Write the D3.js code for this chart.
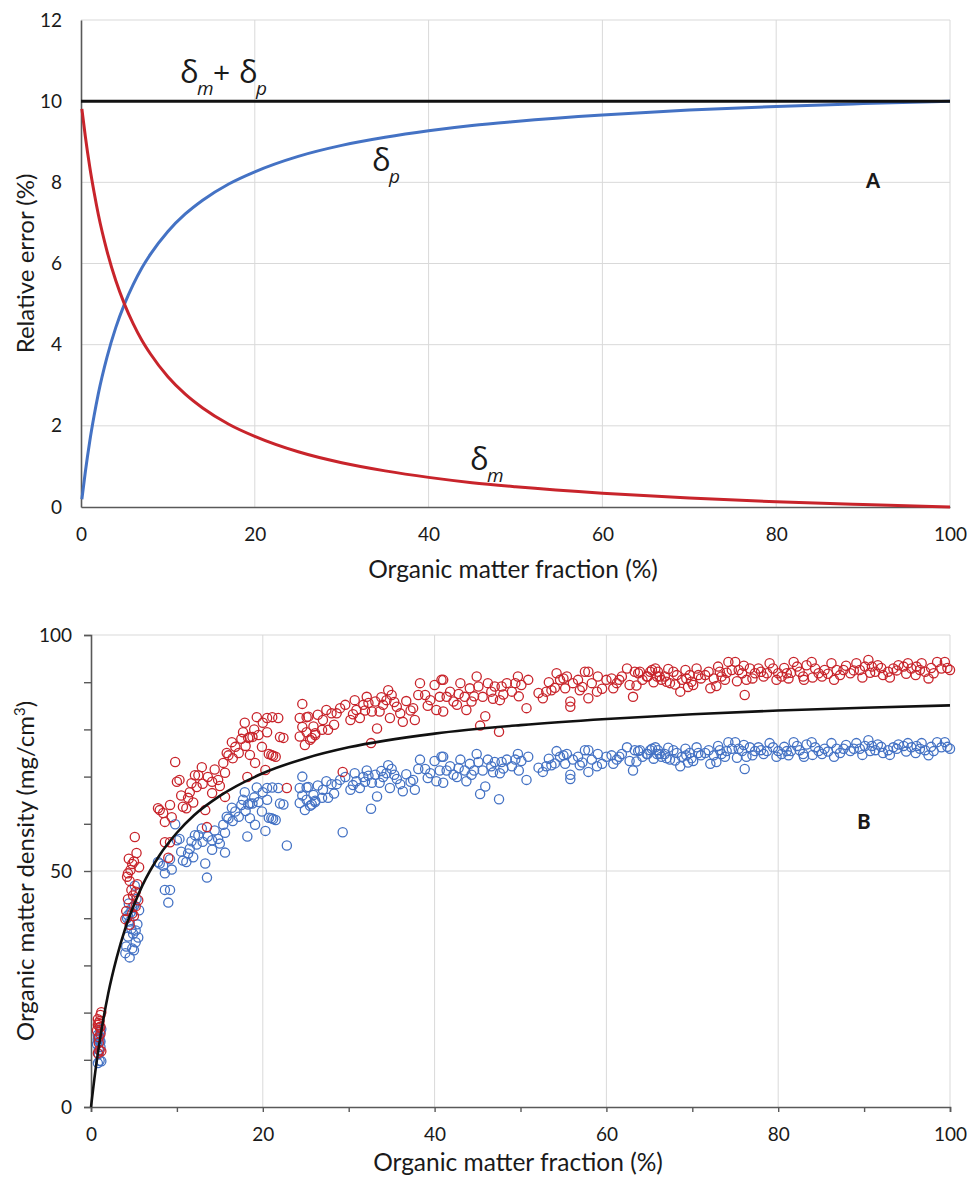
<!DOCTYPE html>
<html>
<head>
<meta charset="utf-8">
<script src="https://cdn.jsdelivr.net/npm/d3@7"></script>
<style>
  body { margin: 0; background: #ffffff; }
  svg text { font-family: Lato, "Open Sans", sans-serif; fill: #1a1a1a; }
</style>
</head>
<body>
<svg id="chart" width="967" height="1177"></svg>
<script>
// ---------- Panel A: relative error components ----------
const fractionTicksA = [0, 20, 40, 60, 80, 100];
const errorTicks = [0, 2, 4, 6, 8, 10, 12];

const curveFraction = [0.1, 0.5, 1, 1.5, 2, 3, 4, 5, 6, 7, 8, 10, 12, 14, 17, 20, 25, 30, 35, 40, 45, 50, 60, 70, 80, 90, 100];
const deltaM = [9.81, 9.13, 8.39, 7.76, 7.20, 6.30, 5.58, 5.00, 4.52, 4.11, 3.77, 3.21, 2.78, 2.44, 2.04, 1.74, 1.36, 1.09, 0.89, 0.73, 0.60, 0.50, 0.34, 0.22, 0.13, 0.06, 0.00];
const deltaP = [0.19, 0.87, 1.61, 2.24, 2.80, 3.70, 4.42, 5.00, 5.48, 5.89, 6.23, 6.79, 7.22, 7.56, 7.96, 8.26, 8.64, 8.91, 9.11, 9.27, 9.40, 9.50, 9.66, 9.78, 9.87, 9.94, 10.00];
const sumFraction = [0, 100];
const deltaSum = [10, 10];

// ---------- Panel B: organic matter density ----------
const fractionTicksB = [0, 10, 20, 30, 40, 50, 60, 70, 80, 90, 100];
const densityTicks = [0, 10, 20, 30, 40, 50, 60, 70, 80, 90, 100];
const densityLabels = [0, 50, 100];
const fractionLabelsB = [0, 20, 40, 60, 80, 100];

const modelFraction = [0, 0.5, 1, 2, 3, 4, 5, 6, 8, 10, 12, 15, 20, 25, 30, 40, 50, 60, 70, 80, 90, 100];
const modelDensity = [0, 7.5, 13.8, 24.0, 31.7, 37.9, 42.8, 47.0, 53.4, 58.1, 61.8, 65.9, 70.7, 73.9, 76.2, 79.1, 80.9, 82.2, 83.2, 84.0, 84.6, 85.1];

const sampleFraction = [
  0.8, 1.0, 1.1, 1.2, 0.9, 1.0, 0.7, 1.1, 0.9, 1.0, 0.8, 1.2, 0.9, 1.1, 0.8,
  4.1, 4.3, 4.5, 4.2, 4.6, 4.4, 4.8, 5.0, 5.1, 5.3, 4.7, 4.9, 5.2, 5.4, 4.0, 4.5, 5.0, 5.5, 4.3, 5.6, 4.8, 5.2,
  7.8, 8.0, 8.4, 8.6, 8.6, 9.0, 9.2, 9.2, 9.4, 9.8, 10.0, 10.3, 10.7, 11.1, 11.3, 11.5, 11.7, 12.1, 12.5, 12.9, 13.3, 13.5, 13.6, 14.1, 14.1, 14.8, 15.4, 15.6, 15.6, 15.8, 16.4, 16.5, 16.8, 17.7, 17.9, 18.2, 18.3, 18.5, 18.5, 18.8, 19.1, 19.3,
  10.5, 11.9, 12.3, 13.0, 14.4, 15.0, 16.0, 17.2, 17.5, 18.0, 19.0, 19.5,
  19.9, 20.0, 20.3, 20.5, 20.5, 20.7, 21.0, 21.1, 21.2, 21.5, 21.8, 22.0, 22.4, 22.8, 24.3, 24.3, 24.6, 24.6, 24.9, 25.1, 25.3, 25.1, 25.5, 25.7, 25.9, 26.1, 26.1, 26.4, 26.9,
  27.4, 27.6, 28.0, 28.6, 29.3, 29.6, 30.2, 30.7, 30.9, 31.3, 31.7, 32.1, 32.3, 32.6, 32.7, 33.1, 33.3, 33.6, 34.0, 34.4, 34.6, 34.8, 35.0, 35.6, 36.0, 36.3, 37.5, 37.7, 38.1, 38.3, 38.9, 39.5, 40.0, 40.2, 40.6, 40.8,
  27.0, 28.3, 29.0, 30.5, 31.9, 33.8, 35.3, 36.7, 37.2, 39.2,
  41.0, 41.4, 42.2, 41.0, 43.0, 43.5, 43.7, 44.1, 44.3, 44.9, 45.1, 45.3, 45.6, 45.9, 46.2, 46.6, 47.0, 47.5, 47.6, 47.8,
  48.4, 49.0, 49.4, 49.7, 50.1, 50.7, 50.9, 52.1, 52.6, 53.0, 53.6, 54.2, 54.6, 55.2, 55.4, 55.8, 55.8, 56.1, 56.7, 56.9,
  57.5, 57.9, 57.9, 58.3, 58.9, 59.0, 60.0, 60.6, 60.8, 61.2, 61.8, 62.4, 62.7, 63.1, 63.3, 63.7, 64.8, 65.3, 65.9, 42.6,
  41.8, 42.8, 44.6, 46.8, 48.0, 49.8, 53.3, 54.0, 55.0, 57.2, 59.5, 61.5, 63.5, 64.2,
  63.9, 64.7, 65.1, 65.7, 66.0, 66.2, 66.4, 66.8, 67.0, 67.4, 67.8, 68.2, 68.6, 68.8, 69.2, 69.3, 69.7, 69.9, 70.1, 70.5,
  70.7, 71.9, 72.1, 72.5, 73.0, 73.2, 73.4, 73.8, 74.2, 74.6, 75.0, 75.4, 75.8, 76.1, 76.3, 76.7, 77.3, 77.7, 78.3, 78.7,
  79.0, 79.4, 80.0, 80.4, 81.0, 81.2, 81.8, 82.2, 82.5, 82.9, 83.3, 83.9, 84.3, 84.7, 85.1, 85.4, 86.2, 86.8, 87.2, 87.6,
  88.4, 89.1, 89.5, 90.1, 90.5, 90.9, 91.3, 91.6, 92.2, 92.8, 93.4, 94.0, 94.6, 95.1, 95.5, 96.1, 96.5, 96.7, 97.1, 97.5,
  98.1, 98.5, 99.0, 99.4, 100.0,
  65.5, 67.2, 68.0, 69.5, 71.0, 71.5, 72.8, 74.0, 75.2, 76.0, 77.0, 78.0, 79.8, 80.7, 81.5, 83.0, 84.0, 85.8, 86.5, 87.9,
  88.8, 89.8, 90.7, 92.0, 93.0, 93.8, 94.9, 96.0, 97.8, 99.7
];

const densityRed = [
  17.4, 18.2, 19.5, 20.1, 17.8, 16.9, 16.2, 15.5, 14.8, 12.0, 11.4, 11.8, 13.6, 17.0, 18.6,
  41.5, 44.0, 47.9, 48.8, 50.2, 52.6, 51.5, 52.0, 57.2, 53.8, 46.0, 44.8, 42.5, 47.2, 39.8, 38.6, 40.5, 43.8, 49.5, 50.8, 41.0, 45.6,
  63.3, 62.9, 62.3, 60.4, 56.1, 52.8, 56.1, 64.0, 61.4, 73.1, 68.9, 69.3, 63.6, 63.3, 65.5, 66.7, 68.6, 70.3, 70.3, 72.0, 62.9, 59.3, 69.9, 66.5, 68.9, 69.3, 72.9, 70.8, 65.7, 75.0, 77.3, 73.9, 76.3, 79.4, 81.4, 69.9, 78.2, 78.4, 74.6, 78.4, 72.9, 82.6,
  66.0, 64.5, 67.8, 68.5, 71.5, 68.0, 74.5, 75.0, 78.0, 76.5, 80.0, 78.8,
  76.3, 81.4, 71.4, 79.4, 82.4, 74.8, 74.6, 82.6, 74.4, 74.2, 82.4, 78.4, 78.2, 67.6, 78.5, 82.4, 85.4, 80.5, 76.7, 82.6, 82.7, 79.4, 77.8, 78.2, 80.6, 79.2, 78.8, 83.1, 79.9,
  84.1, 79.9, 83.4, 83.4, 71.0, 85.2, 82.0, 86.2, 84.1, 82.4, 85.2, 86.9, 85.6, 77.1, 83.8, 85.9, 80.2, 83.8, 85.2, 86.2, 88.3, 82.4, 87.3, 84.8, 83.4, 81.6, 84.5, 82.0, 87.3, 89.8, 87.3, 86.2, 89.4, 84.1, 86.9, 90.5,
  82.0, 81.0, 84.5, 83.2, 84.0, 86.8, 85.8, 86.0, 84.0, 85.0,
  90.5, 86.9, 85.9, 83.8, 89.8, 86.9, 84.1, 88.7, 85.9, 91.2, 89.1, 80.8, 86.9, 82.8, 89.8, 88.0, 89.1, 79.5, 86.2, 89.1,
  89.8, 88.0, 89.8, 91.2, 89.4, 84.5, 90.5, 87.7, 86.6, 88.0, 88.3, 91.9, 90.5, 88.7, 91.2, 85.9, 84.8, 89.8, 90.5, 88.3,
  92.2, 92.2, 86.6, 89.8, 88.0, 91.2, 90.5, 90.8, 88.7, 89.8, 91.2, 92.9, 89.4, 86.9, 92.2, 91.9, 91.2, 92.6, 91.2, 85.2,
  88.0, 87.5, 87.0, 86.5, 87.4, 87.0, 90.0, 88.8, 90.8, 89.0, 88.6, 90.5, 89.3, 90.5,
  92.2, 91.2, 92.2, 92.9, 92.2, 91.2, 90.5, 91.2, 90.1, 89.8, 92.2, 91.5, 88.0, 90.5, 92.6, 90.8, 91.5, 90.1, 89.4, 92.9,
  91.5, 92.2, 88.7, 90.8, 93.3, 92.2, 91.2, 90.5, 94.3, 92.6, 94.3, 92.6, 91.9, 87.3, 90.5, 92.9, 91.9, 92.9, 91.2, 91.9,
  94.0, 92.9, 91.9, 91.2, 91.9, 90.8, 94.3, 93.3, 92.2, 91.2, 93.6, 94.3, 92.9, 91.9, 91.2, 92.6, 94.0, 92.6, 91.5, 92.6,
  91.9, 94.0, 92.6, 93.3, 94.7, 93.3, 92.2, 93.6, 91.5, 92.2, 92.9, 93.6, 93.3, 94.0, 92.9, 93.3, 92.6, 94.0, 92.2, 90.8,
  91.9, 94.3, 92.9, 94.3, 92.6,
  90.0, 92.8, 89.5, 89.0, 90.8, 91.5, 89.2, 92.0, 90.2, 93.5, 90.8, 92.2, 90.5, 93.0, 92.0, 90.5, 91.0, 91.8, 90.5, 93.5,
  92.5, 91.0, 92.0, 93.0, 91.0, 92.5, 91.8, 91.5, 93.0, 93.0
];

const densityBlue = [
  14.3, 14.9, 16.0, 16.5, 14.6, 13.9, 13.3, 12.7, 12.1, 9.8, 9.3, 9.7, 11.2, 13.9, 15.3,
  34.0, 36.1, 39.3, 40.0, 41.2, 43.1, 42.2, 42.6, 46.9, 44.1, 37.7, 36.7, 34.9, 38.7, 32.6, 31.7, 33.2, 35.9, 40.6, 41.7, 33.6, 37.4,
  51.9, 51.6, 51.1, 49.5, 46.0, 43.3, 46.0, 52.5, 50.3, 59.9, 56.5, 56.8, 52.2, 51.9, 53.7, 54.7, 56.3, 57.6, 57.6, 59.0, 51.6, 48.6, 57.3, 54.5, 56.5, 56.8, 59.8, 58.1, 53.9, 61.5, 63.4, 60.6, 62.6, 65.1, 66.7, 57.3, 64.1, 64.3, 61.2, 64.3, 59.8, 67.7,
  54.1, 52.9, 55.6, 56.2, 58.6, 55.8, 61.1, 61.5, 64.0, 62.7, 65.6, 64.6,
  62.6, 66.7, 58.5, 65.1, 67.6, 61.3, 61.2, 67.7, 61.0, 60.8, 67.6, 64.3, 64.1, 55.4, 64.4, 67.6, 70.0, 66.0, 62.9, 67.7, 67.8, 65.1, 63.8, 64.1, 66.1, 64.9, 64.6, 68.1, 65.5,
  69.0, 65.5, 68.4, 68.4, 58.2, 69.9, 67.2, 70.7, 69.0, 67.6, 69.9, 71.3, 70.2, 63.2, 68.7, 70.4, 65.8, 68.7, 69.9, 70.7, 72.4, 67.6, 71.6, 69.5, 68.4, 66.9, 69.3, 67.2, 71.6, 73.6, 71.6, 70.7, 73.3, 69.0, 71.3, 74.2,
  67.2, 66.4, 69.3, 68.2, 68.9, 71.2, 70.4, 70.5, 68.9, 69.7,
  74.2, 71.3, 70.4, 68.7, 73.6, 71.3, 69.0, 72.7, 70.4, 74.8, 73.1, 66.3, 71.3, 67.9, 73.6, 72.2, 73.1, 65.2, 70.7, 73.1,
  73.6, 72.2, 73.6, 74.8, 73.3, 69.3, 74.2, 71.9, 71.0, 72.2, 72.4, 75.4, 74.2, 72.7, 74.8, 70.4, 69.5, 73.6, 74.2, 72.4,
  75.6, 75.6, 71.0, 73.6, 72.2, 74.8, 74.2, 74.5, 72.7, 73.6, 74.8, 76.2, 73.3, 71.3, 75.6, 75.4, 74.8, 75.9, 74.8, 69.9,
  72.2, 71.8, 71.3, 70.9, 71.7, 71.3, 73.8, 72.8, 74.5, 73.0, 72.7, 74.2, 73.2, 74.2,
  75.6, 74.8, 75.6, 76.2, 75.6, 74.8, 74.2, 74.8, 73.9, 73.6, 75.6, 75.0, 72.2, 74.2, 75.9, 74.5, 75.0, 73.9, 73.3, 76.2,
  75.0, 75.6, 72.7, 74.5, 76.5, 75.6, 74.8, 74.2, 77.3, 75.9, 77.3, 75.9, 75.4, 71.6, 74.2, 76.2, 75.4, 76.2, 74.8, 75.4,
  77.1, 76.2, 75.4, 74.8, 75.4, 74.5, 77.3, 76.5, 75.6, 74.8, 76.8, 77.3, 76.2, 75.4, 74.8, 75.9, 77.1, 75.9, 75.0, 75.9,
  75.4, 77.1, 75.9, 76.5, 77.7, 76.5, 75.6, 76.8, 75.0, 75.6, 76.2, 76.8, 76.5, 77.1, 76.2, 76.5, 75.9, 77.1, 75.6, 74.5,
  75.4, 77.3, 76.2, 77.3, 75.9,
  73.8, 76.1, 73.4, 73.0, 74.5, 75.0, 73.1, 75.4, 74.0, 76.7, 74.5, 75.6, 74.2, 76.3, 75.4, 74.2, 74.6, 75.3, 74.2, 76.7,
  75.9, 74.6, 75.4, 76.3, 74.6, 75.9, 75.3, 75.0, 76.3, 76.3
];

// ---------- styling ----------
const RED = "#c8242b";
const BLUE = "#4472c4";
const GRID = "#d9d9d9";
const AXIS = "#595959";
const textFont = "Lato, 'Open Sans', sans-serif";
const greekFont = "'Open Sans', 'Noto Sans', sans-serif";

const svg = d3.select("#chart");
svg.append("rect").attr("width", 967).attr("height", 1177).attr("fill", "#ffffff");

// ====================== Panel A ======================
const xA = d3.scaleLinear().domain([0, 100]).range([81, 950]);
const yA = d3.scaleLinear().domain([0, 12]).range([507, 20]);
const gA = svg.append("g");

// gridlines
gA.append("g").selectAll("line").data(errorTicks.filter(d => d > 0)).join("line")
  .attr("x1", xA(0)).attr("x2", xA(100)).attr("y1", d => yA(d)).attr("y2", d => yA(d))
  .attr("stroke", GRID).attr("stroke-width", 1);
gA.append("g").selectAll("line").data(fractionTicksA.filter(d => d > 0)).join("line")
  .attr("x1", d => xA(d)).attr("x2", d => xA(d)).attr("y1", yA(0)).attr("y2", yA(12))
  .attr("stroke", GRID).attr("stroke-width", 1);

// axes
const axAy = gA.append("g").attr("transform", `translate(${xA(0)},0)`)
  .call(d3.axisLeft(yA).tickValues(errorTicks).tickSize(0).tickPadding(19));
const axAx = gA.append("g").attr("transform", `translate(0,${yA(0)})`)
  .call(d3.axisBottom(xA).tickValues(fractionTicksA).tickSize(0).tickPadding(21));
[axAy, axAx].forEach(a => {
  a.select(".domain").attr("stroke", AXIS).attr("stroke-width", 1.6);
  a.selectAll("text").style("font-size", "19px").style("font-family", textFont).attr("fill", "#1a1a1a");
});

// curves
const lineA = (xs, ys) => d3.line().curve(d3.curveMonotoneX)
  .x((d, i) => xA(xs[i])).y(d => yA(d))(ys);

gA.append("path").attr("d", lineA(curveFraction, deltaP))
  .attr("fill", "none").attr("stroke", BLUE).attr("stroke-width", 3);
gA.append("path").attr("d", lineA(curveFraction, deltaM))
  .attr("fill", "none").attr("stroke", RED).attr("stroke-width", 3);
gA.append("path").attr("d", lineA(sumFraction, deltaSum))
  .attr("fill", "none").attr("stroke", "#111111").attr("stroke-width", 3);

// axis titles
gA.append("text").attr("x", 513).attr("y", 578)
  .attr("text-anchor", "middle").style("font-size", "24.5px").text("Organic matter fraction (%)");
gA.append("text").attr("transform", `translate(34,${(yA(0) + yA(12)) / 2}) rotate(-90)`)
  .attr("text-anchor", "middle").style("font-size", "24px").text("Relative error (%)");

// series labels
function deltaLabel(g, x, y, sub) {
  g.append("text").attr("x", x).attr("y", y).style("font-family", greekFont).style("font-size", "31px").text("δ");
  g.append("text").attr("x", x + 17).attr("y", y + 12).style("font-family", greekFont)
    .style("font-size", "19px").style("font-style", "italic").text(sub);
}
deltaLabel(gA, 180, 83, "m");
gA.append("text").attr("x", 213).attr("y", 83).style("font-family", greekFont).style("font-size", "30px").text("+");
deltaLabel(gA, 239, 83, "p");
deltaLabel(gA, 372, 171, "p");
deltaLabel(gA, 470, 470, "m");

gA.append("text").attr("x", 873).attr("y", 188).attr("text-anchor", "middle")
  .style("font-size", "20px").style("font-weight", "900").text("A");

// ====================== Panel B ======================
const xB = d3.scaleLinear().domain([0, 100]).range([91, 950]);
const yB = d3.scaleLinear().domain([0, 100]).range([1107, 635]);
const gB = svg.append("g");

// gridlines at major intervals
gB.append("g").selectAll("line").data(densityLabels.filter(d => d > 0)).join("line")
  .attr("x1", xB(0)).attr("x2", xB(100)).attr("y1", d => yB(d)).attr("y2", d => yB(d))
  .attr("stroke", GRID).attr("stroke-width", 1);
gB.append("g").selectAll("line").data(fractionLabelsB.filter(d => d > 0)).join("line")
  .attr("x1", d => xB(d)).attr("x2", d => xB(d)).attr("y1", yB(0)).attr("y2", yB(100))
  .attr("stroke", GRID).attr("stroke-width", 1);

// axes with minor ticks every 10
const axBy = gB.append("g").attr("transform", `translate(${xB(0)},0)`)
  .call(d3.axisLeft(yB).tickValues(densityTicks).tickSize(7).tickPadding(12)
    .tickFormat(d => densityLabels.includes(d) ? d : ""));
const axBx = gB.append("g").attr("transform", `translate(0,${yB(0)})`)
  .call(d3.axisBottom(xB).tickValues(fractionTicksB).tickSize(5).tickPadding(16)
    .tickFormat(d => fractionLabelsB.includes(d) ? d : ""));
[axBy, axBx].forEach(a => {
  a.select(".domain").attr("stroke", AXIS).attr("stroke-width", 1.6);
  a.selectAll(".tick line").attr("stroke", AXIS).attr("stroke-width", 1.4);
  a.selectAll("text").style("font-size", "19px").style("font-family", textFont).attr("fill", "#1a1a1a");
});

// scatter points
const points = sampleFraction.map((f, i) => ({ f, red: densityRed[i], blue: densityBlue[i] }));
gB.append("g").selectAll("circle").data(points).join("circle")
  .attr("cx", d => xB(d.f)).attr("cy", d => yB(d.blue)).attr("r", 4.6)
  .attr("fill", "none").attr("stroke", BLUE).attr("stroke-width", 1.3);
gB.append("g").selectAll("circle").data(points).join("circle")
  .attr("cx", d => xB(d.f)).attr("cy", d => yB(d.red)).attr("r", 4.6)
  .attr("fill", "none").attr("stroke", RED).attr("stroke-width", 1.3);

// model curve
gB.append("path")
  .attr("d", d3.line().curve(d3.curveMonotoneX)
    .x((d, i) => xB(modelFraction[i])).y(d => yB(d))(modelDensity))
  .attr("fill", "none").attr("stroke", "#111111").attr("stroke-width", 2.6);

// axis titles
gB.append("text").attr("x", 518).attr("y", 1171)
  .attr("text-anchor", "middle").style("font-size", "24.5px").text("Organic matter fraction (%)");
const yTitle = gB.append("text").attr("transform", `translate(34,${(yB(0) + yB(100)) / 2}) rotate(-90)`)
  .attr("text-anchor", "middle").style("font-size", "24px");
yTitle.append("tspan").text("Organic matter density (mg/cm");
yTitle.append("tspan").attr("dy", -9).style("font-size", "15px").text("3");
yTitle.append("tspan").attr("dy", 9).text(")");

gB.append("text").attr("x", 864).attr("y", 829).attr("text-anchor", "middle")
  .style("font-size", "20px").style("font-weight", "900").text("B");
</script>
</body>
</html>
